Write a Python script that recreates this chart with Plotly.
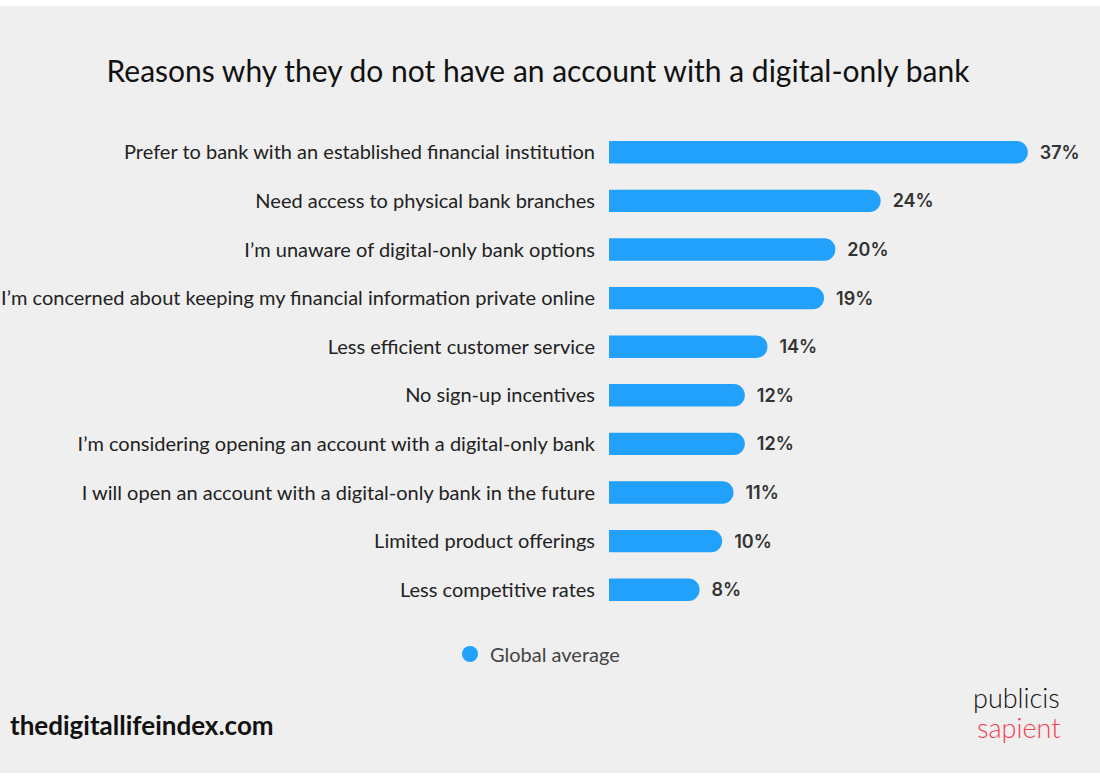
import plotly.graph_objects as go

# Survey responses, top to bottom
reasons = [
    "Prefer to bank with an established financial institution",
    "Need access to physical bank branches",
    "I’m unaware of digital-only bank options",
    "I’m concerned about keeping my financial information private online",
    "Less efficient customer service",
    "No sign-up incentives",
    "I’m considering opening an account with a digital-only bank",
    "I will open an account with a digital-only bank in the future",
    "Limited product offerings",
    "Less competitive rates",
]
global_average = [37, 24, 20, 19, 14, 12, 12, 11, 10, 8]

BLUE = "#21a1fc"
BG = "#efefef"
LABEL_FONT = "Lato"

# Plot-area geometry in pixels (used to place the page furniture)
W, H = 1100, 777
ML, MR, MT, MB = 609, 10, 128, 163
PW, PH = W - ML - MR, H - MT - MB


def px_x(x):
    return (x - ML) / PW


def px_y(y):
    return (H - MB - y) / PH


fig = go.Figure()

fig.add_trace(go.Bar(
    x=global_average,
    y=reasons,
    orientation="h",
    marker=dict(color=BLUE, line=dict(width=0)),
    width=0.46,
    text=[f"{v}%" for v in global_average],
    texttemplate="\u2002%{text}",
    textposition="outside",
    textfont=dict(family="Inter", size=18, color="#333333", weight=600),
    cliponaxis=False,
    showlegend=False,
    hoverinfo="skip",
))

# Legend entry with a round marker
fig.add_trace(go.Scatter(
    x=[None], y=[None], mode="markers",
    marker=dict(symbol="circle", size=19, color=BLUE),
    name="Global average",
    showlegend=True,
))

fig.update_layout(
    width=W, height=H,
    paper_bgcolor=BG, plot_bgcolor=BG,
    margin=dict(l=ML, r=MR, t=MT, b=MB, autoexpand=False),
    barcornerradius=11,
    title=dict(
        text="Reasons why they do not have an account with a digital-only bank",
        x=538 / W, xanchor="center", xref="container",
        y=1 - 71 / H, yanchor="middle", yref="container",
        font=dict(family=LABEL_FONT, size=30, color="#111111"),
    ),
    xaxis=dict(range=[0, 42.5], visible=False, fixedrange=True,
               automargin=False),
    yaxis=dict(
        autorange=False, range=[9.5, -0.5], automargin=False,
        showgrid=False, zeroline=False, showline=False,
        ticks="outside", ticklen=9, tickcolor="rgba(0,0,0,0)",
        tickfont=dict(family=LABEL_FONT, size=20, color="#222222"),
    ),
    legend=dict(
        orientation="h",
        x=px_x(450), xanchor="left",
        y=px_y(654), yanchor="middle",
        font=dict(family=LABEL_FONT, size=20, color="#444444"),
        bgcolor="rgba(0,0,0,0)",
        itemwidth=30,
    ),
)

# White strips framing the grey panel at top and bottom
fig.add_shape(type="rect", xref="paper", yref="paper",
              x0=px_x(-5), x1=px_x(W + 5), y0=px_y(6), y1=px_y(-2),
              fillcolor="white", line=dict(width=0), layer="above")
fig.add_shape(type="rect", xref="paper", yref="paper",
              x0=px_x(-5), x1=px_x(W + 5), y0=px_y(H + 2), y1=px_y(773),
              fillcolor="white", line=dict(width=0), layer="above")

fig.add_annotation(
    text="<b>thedigitallifeindex.com</b>",
    xref="paper", yref="paper",
    x=px_x(8), xanchor="left",
    y=px_y(725), yanchor="middle",
    showarrow=False,
    font=dict(family=LABEL_FONT, size=26, color="#111111"),
)
fig.add_annotation(
    text="publicis",
    xref="paper", yref="paper",
    x=px_x(1062), xanchor="right",
    y=px_y(698), yanchor="middle",
    showarrow=False,
    font=dict(family=LABEL_FONT, size=27, color="#111111", weight=300),
)
fig.add_annotation(
    text="sapient",
    xref="paper", yref="paper",
    x=px_x(1062), xanchor="right",
    y=px_y(727), yanchor="middle",
    showarrow=False,
    font=dict(family=LABEL_FONT, size=27, color="#ef3f50", weight=300),
)

fig.write_html("out.html")
